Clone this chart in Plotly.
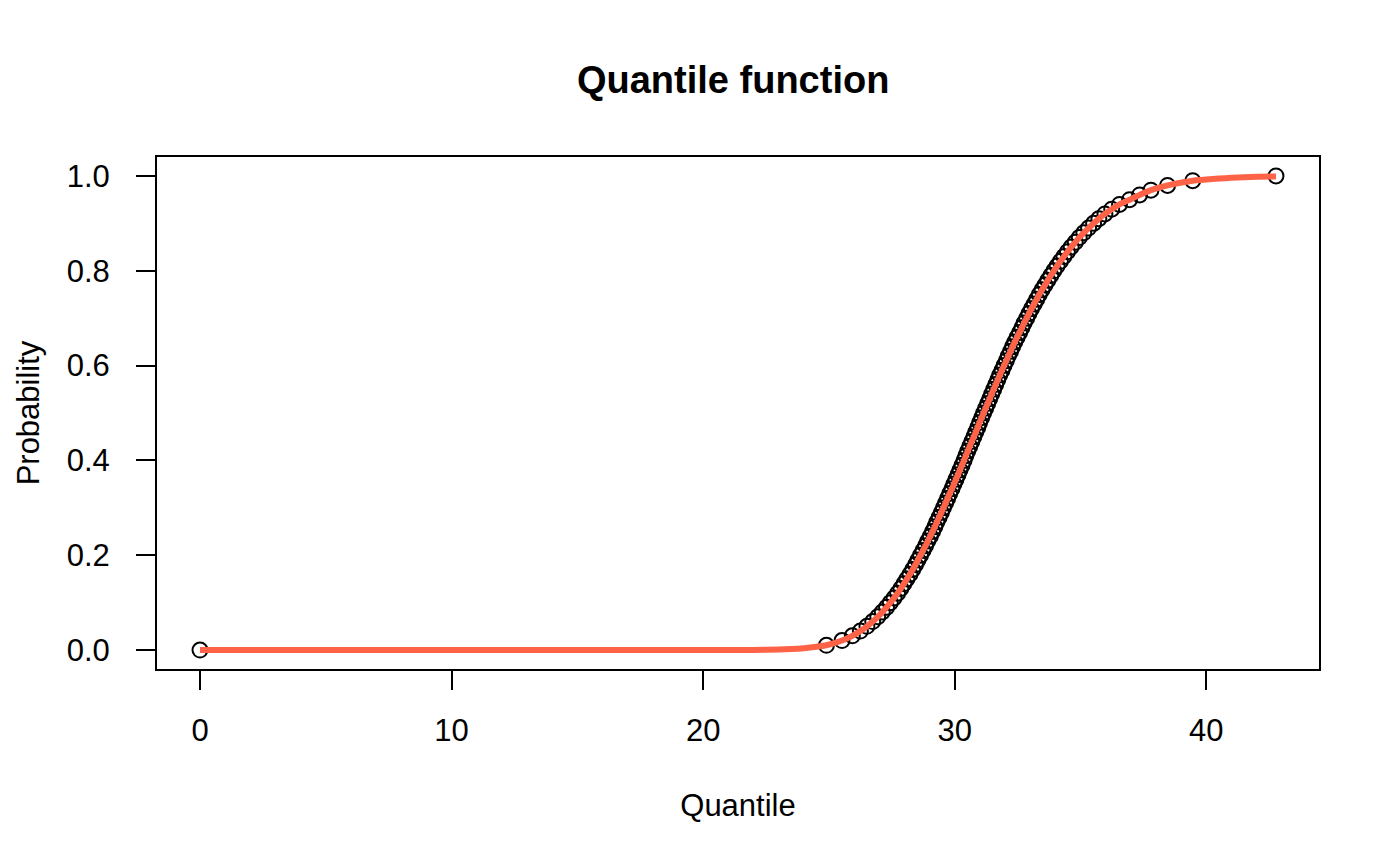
import plotly.graph_objects as go

# Probabilities and estimated quantiles
probs = [i / 100 for i in range(101)]
quantiles = [
    0.00,
    24.90, 25.52, 25.93, 26.25, 26.51, 26.74, 26.94, 27.12, 27.29, 27.44,
    27.59, 27.73, 27.86, 27.98, 28.10, 28.22, 28.33, 28.44, 28.54, 28.64,
    28.74, 28.84, 28.93, 29.03, 29.12, 29.21, 29.29, 29.38, 29.47, 29.55,
    29.64, 29.72, 29.80, 29.89, 29.97, 30.05, 30.13, 30.21, 30.29, 30.37,
    30.44, 30.52, 30.60, 30.68, 30.76, 30.84, 30.92, 30.99, 31.07, 31.15,
    31.23, 31.31, 31.39, 31.47, 31.55, 31.63, 31.71, 31.79, 31.88, 31.96,
    32.05, 32.13, 32.22, 32.30, 32.39, 32.48, 32.58, 32.67, 32.76, 32.86,
    32.95, 33.05, 33.16, 33.26, 33.36, 33.47, 33.59, 33.70, 33.82, 33.94,
    34.07, 34.20, 34.34, 34.48, 34.63, 34.79, 34.95, 35.13, 35.32, 35.52,
    35.73, 35.97, 36.24, 36.55, 36.95, 37.35, 37.80, 38.46, 39.46,
    42.77,
]

# Smooth quantile (CDF) curve: tails, middle follows the points
curve_low_x = [0.0, 5.0, 10.0, 15.0, 20.0, 22.0, 23.0, 23.5, 24.0, 24.5]
curve_low_y = [0.0, 0.0, 0.0, 0.0, 0.0, 0.0003, 0.0012, 0.0022, 0.0040, 0.0068]
curve_high_x = [40.0, 40.5, 41.0, 41.5, 42.0, 42.77]
curve_high_y = [0.9925, 0.9945, 0.9962, 0.9975, 0.9985, 0.9990]

curve_x = curve_low_x + quantiles[1:100] + curve_high_x
curve_y = curve_low_y + probs[1:100] + curve_high_y

x_ticks = [0, 10, 20, 30, 40]
y_ticks = [0.0, 0.2, 0.4, 0.6, 0.8, 1.0]
y_tick_text = ["0.0", "0.2", "0.4", "0.6", "0.8", "1.0"]

FONT = "Helvetica, Arial, Liberation Sans, sans-serif"

fig = go.Figure()
fig.add_trace(go.Scatter(
    x=quantiles, y=probs, mode="markers",
    marker=dict(symbol="circle-open", size=15, color="black", line=dict(width=2)),
    showlegend=False, hoverinfo="x+y",
))
fig.add_trace(go.Scatter(
    x=curve_x, y=curve_y, mode="lines",
    line=dict(color="#FF6347", width=6, shape="spline", smoothing=0.6),
    showlegend=False, hoverinfo="skip",
))

fig.update_layout(
    width=1400, height=866,
    margin=dict(l=149, r=89, t=149, b=205),
    paper_bgcolor="white", plot_bgcolor="white",
    font=dict(family=FONT, size=31, color="black"),
    title=dict(text="<b>Quantile function</b>", x=0.518, xanchor="center",
               y=1 - 72 / 866, yanchor="middle", yref="container",
               font=dict(family=FONT, size=38, color="black")),
)
fig.update_xaxes(
    range=[-1.71, 44.48], tickmode="array", tickvals=x_ticks,
    showgrid=False, zeroline=False,
    showline=True, mirror=True, linecolor="black", linewidth=2,
    ticks="outside", ticklen=19, tickwidth=2, tickcolor="black",
    ticklabelstandoff=14,
    title=dict(text="Quantile", standoff=47, font=dict(size=31)),
)
fig.update_yaxes(
    range=[-0.04, 1.04], tickmode="array", tickvals=y_ticks, ticktext=y_tick_text,
    showgrid=False, zeroline=False,
    showline=True, mirror=True, linecolor="black", linewidth=2,
    ticks="outside", ticklen=19, tickwidth=2, tickcolor="black",
    ticklabelstandoff=20,
    title=dict(text="Probability", standoff=18, font=dict(size=31)),
)

fig.write_html("out.html")
